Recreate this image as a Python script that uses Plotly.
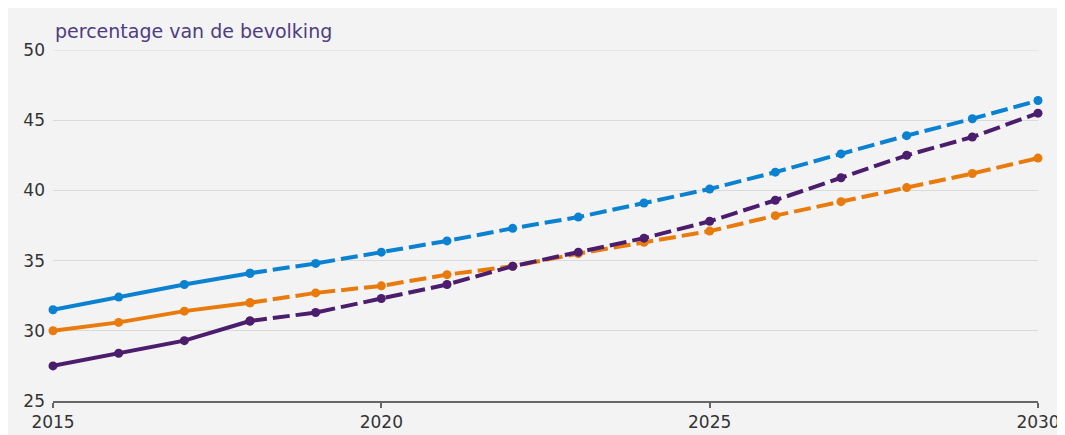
import plotly.graph_objects as go

years = list(range(2015, 2031))
blue = [31.5, 32.4, 33.3, 34.1, 34.8, 35.6, 36.4, 37.3, 38.1, 39.1, 40.1, 41.3, 42.6, 43.9, 45.1, 46.4]
orange = [30.0, 30.6, 31.4, 32.0, 32.7, 33.2, 34.0, 34.6, 35.5, 36.3, 37.1, 38.2, 39.2, 40.2, 41.2, 42.3]
purple = [27.5, 28.4, 29.3, 30.7, 31.3, 32.3, 33.3, 34.6, 35.6, 36.6, 37.8, 39.3, 40.9, 42.5, 43.8, 45.5]
last_observed = 2018
y_ticks = [25, 30, 35, 40, 45, 50]
x_ticks = [2015, 2020, 2025, 2030]
axis_title = "percentage van de bevolking"

colors = {"blue": "#0b82d1", "orange": "#e97a0c", "purple": "#4b1d6c"}
series = [("blue", blue), ("orange", orange), ("purple", purple)]

fig = go.Figure()
cut = years.index(last_observed)
for key, vals in series:
    c = colors[key]
    fig.add_trace(go.Scatter(
        x=years[cut:], y=vals[cut:], mode="lines+markers", cliponaxis=False,
        line=dict(color=c, width=4, dash="17px,6px"),
        marker=dict(color=c, size=9), hoverinfo="x+y", showlegend=False))
    fig.add_trace(go.Scatter(
        x=years[:cut + 1], y=vals[:cut + 1], mode="lines+markers", cliponaxis=False,
        line=dict(color=c, width=4),
        marker=dict(color=c, size=9), hoverinfo="x+y", showlegend=False))

W, H = 1065, 435
ml, mr, mt, mb = 45, 35, 42, 42
ph = H - mt - mb

bg = "#f3f3f3"
fig.update_layout(
    width=W, height=H,
    margin=dict(l=ml, r=mr, t=mt, b=mb),
    paper_bgcolor=bg, plot_bgcolor=bg,
    font=dict(family="DejaVu Sans", size=17, color="#333333"),
    xaxis=dict(range=[2015, 2030], tickvals=x_ticks, showgrid=False,
               showline=True, linecolor="#666666", linewidth=2,
               ticks="outside", ticklen=5, tickwidth=2, tickcolor="#666666",
               zeroline=False, fixedrange=True),
    yaxis=dict(range=[25, 50], tickvals=y_ticks, showgrid=True,
               gridcolor="#dadada", gridwidth=1, zeroline=False,
               ticks="", ticklabelstandoff=7, fixedrange=True),
    shapes=[dict(type="line", xref="paper", yref="y", x0=0, x1=1,
                 y0=y_ticks[-1], y1=y_ticks[-1], layer="below",
                 line=dict(color="#dadada", width=1))],
    annotations=[dict(text=axis_title, xref="paper", yref="paper",
                      x=0, y=1 + (mt - 23) / ph, xanchor="left", yanchor="middle",
                      showarrow=False, font=dict(size=19, color="#4f3d82"))],
)

fig.write_html("out.html")
